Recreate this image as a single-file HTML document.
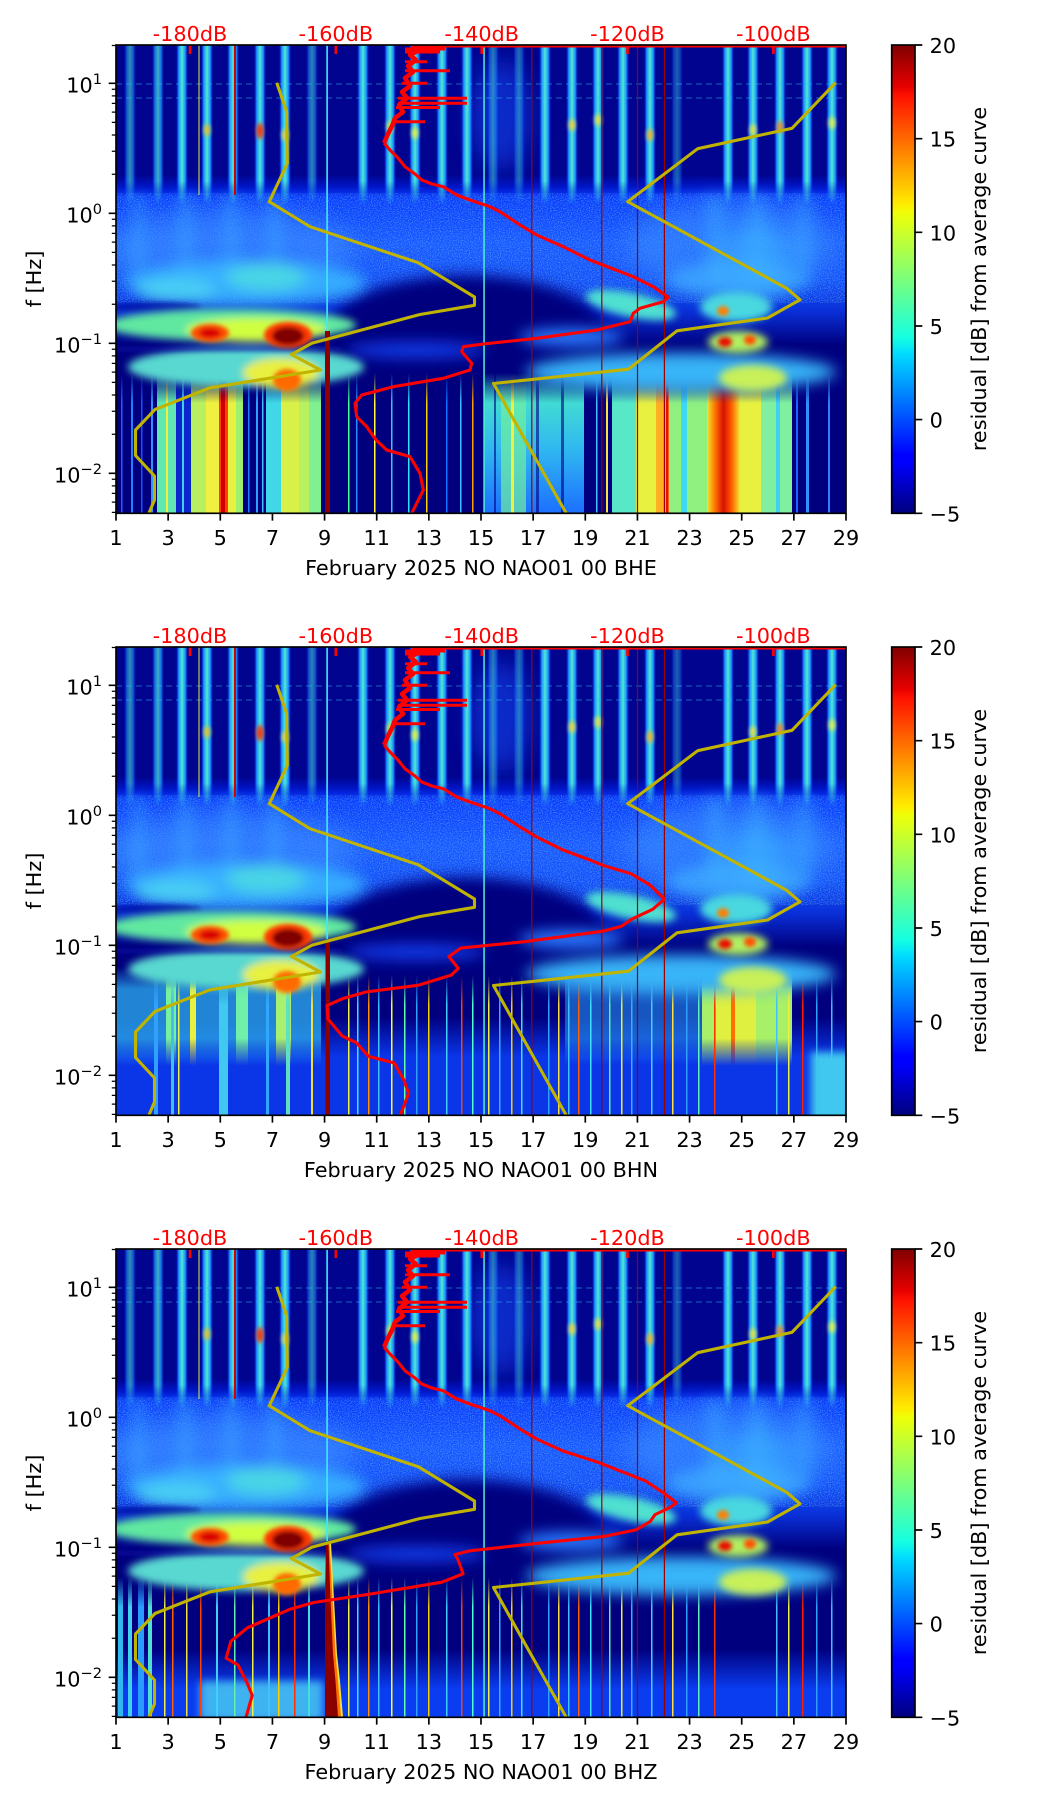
<!DOCTYPE html>
<html><head><meta charset="utf-8"><style>
html,body{margin:0;padding:0;background:#fff;}
svg{display:block;}
text{font-family:"DejaVu Sans","Liberation Sans",sans-serif;font-size:20.8px;fill:#000;}
.r{fill:#ff0000;}
</style></head><body>
<svg xmlns="http://www.w3.org/2000/svg" width="1052" height="1806" viewBox="0 0 1052 1806">
<defs>
<clipPath id="pc"><rect x="0" y="0" width="730" height="468.3"/></clipPath>
<clipPath id="pa"><rect x="116" y="45" width="730" height="468.3"/></clipPath>
<filter id="b2" x="-50%" y="-100%" width="200%" height="300%"><feGaussianBlur stdDeviation="2"/></filter>
<filter id="b4" x="-50%" y="-100%" width="200%" height="300%"><feGaussianBlur stdDeviation="4"/></filter>
<filter id="b7" x="-50%" y="-100%" width="200%" height="300%"><feGaussianBlur stdDeviation="7"/></filter>
<filter id="b12" x="-50%" y="-100%" width="200%" height="300%"><feGaussianBlur stdDeviation="12"/></filter>
<filter id="spk" x="0" y="0" width="100%" height="100%">
<feTurbulence type="fractalNoise" baseFrequency="0.9" numOctaves="1" seed="7"/>
<feColorMatrix type="matrix" values="0 0 0 0 0.18  0 0 0 0 0.6  0 0 0 0 1  0 0 0 3.2 -1.45"/>
</filter>
<linearGradient id="jet" x1="0" y1="1" x2="0" y2="0">
<stop offset="0" stop-color="#00007f"/><stop offset="0.11" stop-color="#0000ff"/><stop offset="0.125" stop-color="#0000ff"/>
<stop offset="0.34" stop-color="#00dbff"/><stop offset="0.375" stop-color="#15ffe2"/><stop offset="0.5" stop-color="#7bff7b"/>
<stop offset="0.64" stop-color="#eeff08"/><stop offset="0.66" stop-color="#ffec00"/><stop offset="0.89" stop-color="#ff1300"/>
<stop offset="0.91" stop-color="#e80000"/><stop offset="1" stop-color="#800000"/>
</linearGradient>
<linearGradient id="gs" x1="0" y1="0" x2="1" y2="0">
<stop offset="0" stop-color="#0a30ff" stop-opacity="0"/><stop offset="0.22" stop-color="#1890ff"/>
<stop offset="0.5" stop-color="#50e8d0"/><stop offset="0.78" stop-color="#1890ff"/><stop offset="1" stop-color="#0a30ff" stop-opacity="0"/>
</linearGradient>
<linearGradient id="gOr" x1="0" y1="0" x2="1" y2="0">
<stop offset="0" stop-color="#f0e830"/><stop offset="0.25" stop-color="#ff7000"/><stop offset="0.5" stop-color="#d81000"/>
<stop offset="0.75" stop-color="#ff6000"/><stop offset="1" stop-color="#f0e830"/>
</linearGradient>
<linearGradient id="gCy" gradientUnits="userSpaceOnUse" x1="0" y1="340" x2="0" y2="468">
<stop offset="0" stop-color="#48e8c8"/><stop offset="0.5" stop-color="#30b8f0"/><stop offset="1" stop-color="#1c70ff"/>
</linearGradient>
<linearGradient id="gBand" gradientUnits="userSpaceOnUse" x1="0" y1="130" x2="0" y2="300">
<stop offset="0" stop-color="#00048f"/><stop offset="0.07" stop-color="#0016c8"/><stop offset="0.13" stop-color="#0a3cfa"/>
<stop offset="0.4" stop-color="#1858ff"/><stop offset="0.62" stop-color="#1450f8"/><stop offset="0.8" stop-color="#0a30d8"/>
<stop offset="1" stop-color="#00007f"/>
</linearGradient>
<linearGradient id="gFT" gradientUnits="userSpaceOnUse" x1="0" y1="0" x2="0" y2="160">
<stop offset="0" stop-color="#fff"/><stop offset="0.85" stop-color="#fff"/><stop offset="1" stop-color="#000"/>
</linearGradient>
<mask id="mTop" maskUnits="userSpaceOnUse" x="0" y="0" width="730" height="470"><rect x="0" y="0" width="730" height="160" fill="url(#gFT)"/></mask>
<linearGradient id="gFL" gradientUnits="userSpaceOnUse" x1="0" y1="328" x2="0" y2="358">
<stop offset="0" stop-color="#000"/><stop offset="1" stop-color="#fff"/>
</linearGradient>
<mask id="mLow" maskUnits="userSpaceOnUse" x="0" y="0" width="730" height="470"><rect x="0" y="300" width="730" height="170" fill="url(#gFL)"/></mask>
<linearGradient id="gFM" gradientUnits="userSpaceOnUse" x1="0" y1="320" x2="0" y2="430">
<stop offset="0" stop-color="#000"/><stop offset="0.2" stop-color="#fff"/><stop offset="0.65" stop-color="#fff"/><stop offset="0.9" stop-color="#000"/>
</linearGradient>
<mask id="mMid" maskUnits="userSpaceOnUse" x="0" y="0" width="730" height="470"><rect x="0" y="300" width="730" height="170" fill="url(#gFM)"/></mask>
<linearGradient id="gLB" gradientUnits="userSpaceOnUse" x1="0" y1="370" x2="0" y2="410">
<stop offset="0" stop-color="#0a36e8" stop-opacity="0"/><stop offset="1" stop-color="#0a36e8"/>
</linearGradient>
<linearGradient id="gLB3" gradientUnits="userSpaceOnUse" x1="0" y1="400" x2="0" y2="440">
<stop offset="0" stop-color="#0a3cf0" stop-opacity="0"/><stop offset="1" stop-color="#0a3cf0"/>
</linearGradient>

<g id="hmA">
<rect x="0" y="0" width="730" height="470" fill="#00007f"/>
<rect x="0" y="0" width="730" height="145" fill="#00048f"/>
<rect x="0" y="130" width="730" height="170" fill="url(#gBand)"/>
<rect x="0" y="148" width="730" height="110" fill="#fff" filter="url(#spk)" opacity="0.5"/>
<g filter="url(#b12)">
<ellipse cx="115" cy="205" rx="125" ry="40" fill="#3a90ff" opacity="0.6"/>
<ellipse cx="615" cy="200" rx="105" ry="45" fill="#3a90ff" opacity="0.55"/>
<ellipse cx="640" cy="215" rx="40" ry="35" fill="#40c0ff" opacity="0.5"/>
<ellipse cx="385" cy="70" rx="30" ry="55" fill="#1a50ff" opacity="0.5"/>
</g>
<g filter="url(#b7)" opacity="0.35">
<rect x="15" y="150" width="14" height="85" fill="#40b8ff"/>
<rect x="62" y="150" width="14" height="85" fill="#40b8ff"/>
<rect x="108" y="150" width="14" height="85" fill="#40b8ff"/>
<rect x="152" y="150" width="14" height="85" fill="#40b8ff"/>
<rect x="590" y="150" width="18" height="90" fill="#40b8ff"/>
<rect x="632" y="150" width="18" height="90" fill="#40b8ff"/>
<rect x="680" y="150" width="16" height="90" fill="#40b8ff"/>
</g>
<ellipse cx="350" cy="292" rx="140" ry="62" fill="#00007f" filter="url(#b7)"/>
</g>

<g id="hmB">
<g filter="url(#b7)">
<ellipse cx="130" cy="238" rx="120" ry="22" fill="#38b8ff" opacity="0.85"/>
<ellipse cx="150" cy="232" rx="40" ry="14" fill="#50e0e0" opacity="0.8"/>
<ellipse cx="60" cy="245" rx="40" ry="12" fill="#50d8f0" opacity="0.8"/>
<ellipse cx="620" cy="235" rx="70" ry="18" fill="#40b0ff" opacity="0.7"/>
<ellipse cx="565" cy="327" rx="155" ry="19" fill="#38b4f8"/>
<ellipse cx="455" cy="292" rx="52" ry="9" fill="#2c7cff"/>
<ellipse cx="300" cy="305" rx="70" ry="8" fill="#1848ff" opacity="0.8"/>
</g>
<ellipse cx="40" cy="262" rx="45" ry="5" fill="#0010a0" opacity="0.7" filter="url(#b2)"/>
<g filter="url(#b4)">
<ellipse cx="115" cy="280" rx="125" ry="16" fill="#60e8a0"/>
<ellipse cx="140" cy="285" rx="70" ry="12" fill="#d0ff40"/>
<ellipse cx="130" cy="322" rx="118" ry="20" fill="#58d8d0"/>
<ellipse cx="165" cy="328" rx="38" ry="15" fill="#e8f040"/>
<ellipse cx="515" cy="260" rx="46" ry="12" fill="#50e0d0" transform="rotate(12 515 260)"/>
<ellipse cx="620" cy="262" rx="36" ry="15" fill="#48d8e0"/>
<ellipse cx="622" cy="297" rx="30" ry="11" fill="#b0f060"/>
<ellipse cx="637" cy="333" rx="34" ry="13" fill="#c8f058"/>
</g>
<rect x="0" y="302" width="225" height="4" fill="#0818b0" opacity="0.6" filter="url(#b2)"/>
<g filter="url(#b2)">
<ellipse cx="94" cy="288" rx="19" ry="9" fill="#ff5000"/>
<ellipse cx="94" cy="288" rx="11" ry="5" fill="#d80000"/>
<ellipse cx="172" cy="290" rx="24" ry="13" fill="#ff3800"/>
<ellipse cx="172" cy="291" rx="16" ry="9" fill="#800000"/>
<ellipse cx="171" cy="335" rx="14" ry="11" fill="#ff6a00"/>
<ellipse cx="607" cy="266" rx="6" ry="5" fill="#ff8000"/>
<ellipse cx="609" cy="297" rx="7" ry="5" fill="#e81000"/>
<ellipse cx="634" cy="295" rx="6" ry="5" fill="#ff5000"/>
</g>
<g mask="url(#mTop)">
<rect x="8" y="0" width="12" height="160" fill="url(#gs)" opacity="0.6"/>
<rect x="36" y="0" width="12" height="160" fill="url(#gs)" opacity="0.75"/>
<rect x="60" y="0" width="12" height="160" fill="url(#gs)"/>
<rect x="85" y="0" width="12" height="160" fill="url(#gs)"/>
<rect x="111" y="0" width="12" height="160" fill="url(#gs)"/>
<rect x="138" y="0" width="12" height="160" fill="url(#gs)"/>
<rect x="163" y="0" width="12" height="160" fill="url(#gs)"/>
<rect x="190" y="0" width="12" height="160" fill="url(#gs)" opacity="0.55"/>
<rect x="241" y="0" width="12" height="160" fill="url(#gs)"/>
<rect x="268" y="0" width="12" height="160" fill="url(#gs)"/>
<rect x="293" y="0" width="12" height="160" fill="url(#gs)"/>
<rect x="320" y="0" width="12" height="160" fill="url(#gs)"/>
<rect x="345" y="0" width="12" height="160" fill="url(#gs)"/>
<rect x="371" y="0" width="12" height="160" fill="url(#gs)" opacity="0.5"/>
<rect x="397" y="0" width="12" height="160" fill="url(#gs)" opacity="0.45"/>
<rect x="423" y="0" width="12" height="160" fill="url(#gs)"/>
<rect x="450" y="0" width="12" height="160" fill="url(#gs)"/>
<rect x="476" y="0" width="12" height="160" fill="url(#gs)"/>
<rect x="501" y="0" width="12" height="160" fill="url(#gs)"/>
<rect x="528" y="0" width="12" height="160" fill="url(#gs)"/>
<rect x="555" y="0" width="12" height="160" fill="url(#gs)" opacity="0.4"/>
<rect x="606" y="0" width="12" height="160" fill="url(#gs)"/>
<rect x="631" y="0" width="12" height="160" fill="url(#gs)"/>
<rect x="658" y="0" width="12" height="160" fill="url(#gs)"/>
<rect x="685" y="0" width="12" height="160" fill="url(#gs)"/>
<rect x="710" y="0" width="12" height="160" fill="url(#gs)"/>
<g filter="url(#b2)">
<ellipse cx="91" cy="85" rx="3" ry="6" fill="#f0c020"/>
<ellipse cx="144" cy="86" rx="3.5" ry="8" fill="#ff3000"/>
<ellipse cx="169" cy="90" rx="3" ry="6" fill="#f0d040"/>
<ellipse cx="274" cy="82" rx="3" ry="6" fill="#e0e040"/>
<ellipse cx="299" cy="88" rx="3" ry="6" fill="#f0f040"/>
<ellipse cx="456" cy="80" rx="3" ry="6" fill="#ffd030"/>
<ellipse cx="482" cy="75" rx="3" ry="6" fill="#f0e040"/>
<ellipse cx="534" cy="90" rx="3" ry="6" fill="#ffb020"/>
<ellipse cx="637" cy="85" rx="3" ry="6" fill="#f0e040"/>
<ellipse cx="664" cy="82" rx="3" ry="6" fill="#ff8020"/>
<ellipse cx="716" cy="78" rx="3" ry="6" fill="#f0f040"/>
</g>
</g>
<path d="M0,39H730M0,53H730" stroke="#30c0f0" stroke-width="1" opacity="0.5" stroke-dasharray="6 4"/>
<rect x="82.5" y="0" width="1" height="150" fill="#e0f040"/>
<rect x="118" y="0" width="2" height="150" fill="#d00000"/>
<rect x="210.3" y="0" width="1.6" height="292" fill="#40e8ff"/>
<rect x="367.3" y="0" width="1.5" height="470" fill="#50f0d0"/>
<rect x="415.2" y="0" width="1.2" height="470" fill="#9a0000"/>
<rect x="485.2" y="0" width="1.2" height="470" fill="#9a0000"/>
<rect x="520.9" y="0" width="1.2" height="470" fill="#9a0000"/>
<rect x="547.8" y="0" width="1.2" height="470" fill="#9a0000"/>
</g>

<g id="tl" mask="url(#mLow)">
<rect x="232" y="300" width="1.5" height="170" fill="#f0f040"/>
<rect x="241" y="300" width="1.5" height="170" fill="#40e0ff"/>
<rect x="252" y="300" width="1.5" height="170" fill="#ff9000"/>
<rect x="262" y="300" width="1.5" height="170" fill="#40c0ff"/>
<rect x="275" y="300" width="1.5" height="170" fill="#ffff40"/>
<rect x="288" y="300" width="1.5" height="170" fill="#60ffb0"/>
<rect x="300" y="300" width="1.5" height="170" fill="#30a0ff"/>
<rect x="312" y="300" width="1.5" height="170" fill="#f8d000"/>
<rect x="330" y="300" width="1.5" height="170" fill="#40d0ff"/>
<rect x="345" y="300" width="1.5" height="170" fill="#ff4000"/>
<rect x="356" y="300" width="1.5" height="170" fill="#50ffd0"/>
<rect x="372" y="300" width="1.5" height="170" fill="#f0f040"/>
<rect x="383" y="300" width="1.5" height="170" fill="#30b0ff"/>
<rect x="395" y="300" width="1.5" height="170" fill="#ffd000"/>
<rect x="405" y="300" width="1.5" height="170" fill="#40e0e0"/>
<rect x="432" y="300" width="1.5" height="170" fill="#30a0ff"/>
<rect x="442" y="300" width="1.5" height="170" fill="#f8e040"/>
<rect x="452" y="300" width="1.5" height="170" fill="#40c0ff"/>
<rect x="462" y="300" width="1.5" height="170" fill="#ff6000"/>
<rect x="474" y="300" width="1.5" height="170" fill="#40e0ff"/>
<rect x="493" y="300" width="1.5" height="170" fill="#60f0a0"/>
<rect x="505" y="300" width="1.5" height="170" fill="#f0f040"/>
<rect x="515" y="300" width="1.5" height="170" fill="#30b0ff"/>
<rect x="535" y="300" width="1.5" height="170" fill="#40d0ff"/>
<rect x="556" y="300" width="1.5" height="170" fill="#ffe040"/>
<rect x="570" y="300" width="1.5" height="170" fill="#30a0ff"/>
<rect x="582" y="300" width="1.5" height="170" fill="#60f0c0"/>
<rect x="598" y="300" width="1.5" height="170" fill="#ff3000"/>
<rect x="660" y="300" width="1.5" height="170" fill="#40c0ff"/>
<rect x="672" y="300" width="1.5" height="170" fill="#f0f040"/>
<rect x="686" y="300" width="1.5" height="170" fill="#ff2000"/>
<rect x="700" y="300" width="1.5" height="170" fill="#30a0ff"/>
<rect x="715" y="300" width="1.5" height="170" fill="#40c0ff"/>
</g>

<g id="cv" fill="none" stroke-linejoin="round">
<path d="M276.7,82.7L286.7,111.7L287.3,163.3L269.3,201.7L310,226.7L418.3,262.7L474.5,297L474.5,305.3L420,314.5L311.7,343.3L291.5,354.5L320.5,370L210,387.8L155,409.5L135.5,430L135.5,455.5L154.5,476L154.5,500L146,520" stroke="#c0b400" stroke-width="3.1"/>
<path d="M835.7,82.7L792,128.3L697.7,148.7L627.7,201.7L786.7,288.3L800,299.8L767.5,318L677,330.8L628.5,369.2L493.5,383.5L570,520" stroke="#c0b400" stroke-width="3.1"/>
<path d="M412,46.3H846" stroke="#ff0000" stroke-width="2.5"/>
<path d="M405,49H445M405,52H440M405,61.7H427M405,70.7H450M402,83.3H427M398,98.3H467M398,103.2H467M396,107.5H440M392,121.7H425" stroke="#ff0000" stroke-width="3"/>
<path d="M412,46L420,50L410,55L416,60L408,66L413,72L405,78L410,86L402,92L407,98L399,105L403,112L395,118L392,126L388,134L384,143" stroke="#ff0000" stroke-width="4.5"/>
<path d="M384,143L390,150L398,158L405,166.7L415,174L421.7,180L432,184L443.3,186.7L456.7,195L470,200L490,206.7L500,211.7L520,225L536.7,235" stroke="#ff0000" stroke-width="3.1"/>
<g fill="#ff0000" stroke="none">
<rect x="188.7" y="45" width="2.7" height="9"/>
<rect x="334.5" y="45" width="2.7" height="9"/>
<rect x="480.4" y="45" width="2.7" height="9"/>
<rect x="626.2" y="45" width="2.7" height="9"/>
<rect x="772" y="45" width="2.7" height="9"/>
</g>
</g>

<g id="ax" fill="none" stroke="#000">
<rect x="116" y="45" width="730" height="468.3" stroke-width="1.67"/>
<path d="M116,513.3v7.3M168.14,513.3v7.3M220.29,513.3v7.3M272.43,513.3v7.3M324.57,513.3v7.3M376.71,513.3v7.3M428.86,513.3v7.3M481,513.3v7.3M533.14,513.3v7.3M585.29,513.3v7.3M637.43,513.3v7.3M689.57,513.3v7.3M741.71,513.3v7.3M793.86,513.3v7.3M846,513.3v7.3" stroke-width="1.67"/>
<path d="M116,83.3h-7.3M116,213.3h-7.3M116,343.3h-7.3M116,473.3h-7.3" stroke-width="1.67"/>
<path d="M116,45.5h-4.2M116,174.2h-4.2M116,151.3h-4.2M116,135h-4.2M116,122.4h-4.2M116,112.1h-4.2M116,103.4h-4.2M116,95.9h-4.2M116,89.2h-4.2M116,304.2h-4.2M116,281.3h-4.2M116,265h-4.2M116,252.4h-4.2M116,242.1h-4.2M116,233.4h-4.2M116,225.9h-4.2M116,219.2h-4.2M116,434.2h-4.2M116,411.3h-4.2M116,395h-4.2M116,382.4h-4.2M116,372.1h-4.2M116,363.4h-4.2M116,355.9h-4.2M116,349.2h-4.2M116,512.4h-4.2M116,502.1h-4.2M116,493.4h-4.2M116,485.9h-4.2M116,479.2h-4.2" stroke-width="1.25"/>
<rect x="891.7" y="45" width="23.3" height="468.3" fill="url(#jet)" stroke-width="1.67"/>
<path d="M915,513.3h7.3M915,419.6h7.3M915,326h7.3M915,232.3h7.3M915,138.7h7.3M915,45h7.3" stroke-width="1.67"/>
</g>
</defs>

<rect width="1052" height="1806" fill="#fff"/>

<!-- ================= PANEL 1 ================= -->
<g>
<g transform="translate(116,45)" clip-path="url(#pc)">
<use href="#hmA"/>
<g mask="url(#mLow)">
<rect x="5" y="320" width="1.5" height="150" fill="#1c60ff"/>
<rect x="15" y="320" width="2" height="150" fill="#2080ff"/>
<rect x="25" y="320" width="1.5" height="150" fill="#1850ff"/>
<rect x="35" y="320" width="2" height="150" fill="#3090ff"/>
<rect x="41" y="320" width="19" height="150" fill="#60e8b0"/>
<rect x="50" y="320" width="2" height="150" fill="#f0f040"/>
<rect x="60" y="320" width="15" height="150" fill="#1040ff" opacity="0.6"/>
<rect x="66" y="320" width="2" height="150" fill="#40d0f0"/>
<rect x="75" y="320" width="15" height="150" fill="#b8f060"/>
<rect x="90" y="320" width="13" height="150" fill="#f0f040"/>
<rect x="103" y="320" width="9" height="150" fill="#ff4000"/>
<rect x="105" y="320" width="4" height="150" fill="#d00000"/>
<rect x="112" y="320" width="8" height="150" fill="#e8f040"/>
<rect x="120" y="320" width="7" height="150" fill="#a0f070"/>
<rect x="132" y="320" width="1.5" height="150" fill="#2080ff"/>
<rect x="140" y="320" width="2" height="150" fill="#30a0ff"/>
<rect x="146" y="320" width="1.5" height="150" fill="#40c0ff"/>
<rect x="150" y="320" width="15" height="150" fill="#40d8e8"/>
<rect x="165" y="320" width="18" height="150" fill="#d8f048"/>
<rect x="183" y="320" width="10" height="150" fill="#b8f060"/>
<rect x="193" y="320" width="12" height="150" fill="#80f090"/>
<rect x="232" y="320" width="1.5" height="150" fill="#40ff90"/>
<rect x="240" y="320" width="1.5" height="150" fill="#2090ff"/>
<rect x="258" y="320" width="1.5" height="150" fill="#ffff40"/>
<rect x="275" y="320" width="1.5" height="150" fill="#40c0ff"/>
<rect x="292" y="320" width="1.5" height="150" fill="#30e0ff"/>
<rect x="310" y="320" width="1.5" height="150" fill="#ffd000"/>
<rect x="330" y="320" width="1.5" height="150" fill="#1070ff"/>
<rect x="344" y="320" width="1.5" height="150" fill="#40c0ff"/>
<rect x="356" y="320" width="1.5" height="150" fill="#ffa000"/>
<rect x="368" y="320" width="100" height="150" fill="url(#gCy)"/>
<rect x="385" y="320" width="25" height="150" fill="#70f0a0" opacity="0.7"/>
<rect x="395" y="320" width="3" height="150" fill="#f0f040"/>
<rect x="378" y="320" width="2" height="150" fill="#00007f" opacity="0.6"/>
<rect x="420" y="320" width="3" height="150" fill="#00007f" opacity="0.6"/>
<rect x="445" y="320" width="3" height="150" fill="#00007f" opacity="0.6"/>
<rect x="480" y="320" width="1.5" height="150" fill="#40c0ff"/>
<rect x="490" y="320" width="2" height="150" fill="#ffe040"/>
<rect x="496" y="320" width="24" height="150" fill="#58e8c8"/>
<rect x="520" y="320" width="20" height="150" fill="#e8f040"/>
<rect x="540" y="320" width="13" height="150" fill="#ffb020"/>
<rect x="550" y="320" width="2.5" height="150" fill="#e81000"/>
<rect x="553" y="320" width="38" height="150" fill="#90f080"/>
<rect x="565" y="320" width="6" height="150" fill="#40d8f0"/>
<rect x="591" y="320" width="33" height="150" fill="url(#gOr)"/>
<rect x="624" y="320" width="21" height="150" fill="#e8f040"/>
<rect x="645" y="320" width="31" height="150" fill="#80f0a0"/>
<rect x="660" y="320" width="4" height="150" fill="#40d0f0"/>
<rect x="680" y="320" width="2" height="150" fill="#2060ff"/>
<rect x="690" y="320" width="3" height="150" fill="#3090ff"/>
<rect x="712" y="320" width="2" height="150" fill="#3080ff"/>
</g>
<use href="#hmB"/>
<rect x="209" y="286" width="5" height="184" fill="#8c0000"/>
</g>
<g clip-path="url(#pa)">
<use href="#cv"/>
<path d="M536.7,235L563.3,246.7L590,260L633.3,276.7L653.3,286.7L668.3,297.3L663.3,301.7L640,308.3L633.3,313.3L630,321.7L596.7,330L536.7,338.3L483.3,344L463.3,346.7L461.7,351.7L471.7,363.3L470,370L443.3,378.3L393.3,386.7L361.7,395L355,403.3L356.7,416.7L366.7,426.7L376,440L386.7,450L410,456.7L420,473.3L423.3,490L411.7,513.3L410,520" fill="none" stroke="#ff0000" stroke-width="3.1" stroke-linejoin="round"/>
</g>
<use href="#ax"/>
<text class="r" x="190" y="41" text-anchor="middle">-180dB</text>
<text class="r" x="335.8" y="41" text-anchor="middle">-160dB</text>
<text class="r" x="481.7" y="41" text-anchor="middle">-140dB</text>
<text class="r" x="627.5" y="41" text-anchor="middle">-120dB</text>
<text class="r" x="773.3" y="41" text-anchor="middle">-100dB</text>
<text x="102" y="92.3" text-anchor="end">10<tspan font-size="14.6" dy="-8.5">1</tspan></text>
<text x="102" y="222.3" text-anchor="end">10<tspan font-size="14.6" dy="-8.5">0</tspan></text>
<text x="102" y="352.3" text-anchor="end">10<tspan font-size="14.6" dy="-8.5">−1</tspan></text>
<text x="102" y="482.3" text-anchor="end">10<tspan font-size="14.6" dy="-8.5">−2</tspan></text>
<text x="116" y="545" text-anchor="middle">1</text>
<text x="168.14" y="545" text-anchor="middle">3</text>
<text x="220.29" y="545" text-anchor="middle">5</text>
<text x="272.43" y="545" text-anchor="middle">7</text>
<text x="324.57" y="545" text-anchor="middle">9</text>
<text x="376.71" y="545" text-anchor="middle">11</text>
<text x="428.86" y="545" text-anchor="middle">13</text>
<text x="481" y="545" text-anchor="middle">15</text>
<text x="533.14" y="545" text-anchor="middle">17</text>
<text x="585.29" y="545" text-anchor="middle">19</text>
<text x="637.43" y="545" text-anchor="middle">21</text>
<text x="689.57" y="545" text-anchor="middle">23</text>
<text x="741.71" y="545" text-anchor="middle">25</text>
<text x="793.86" y="545" text-anchor="middle">27</text>
<text x="846" y="545" text-anchor="middle">29</text>
<text x="481" y="575" text-anchor="middle">February 2025 NO NAO01 00 BHE</text>
<text transform="translate(41,279) rotate(-90)" text-anchor="middle">f [Hz]</text>
<text x="929.6" y="521.3">−5</text>
<text x="929.6" y="427.6">0</text>
<text x="929.6" y="334">5</text>
<text x="929.6" y="240.3">10</text>
<text x="929.6" y="146.7">15</text>
<text x="929.6" y="53">20</text>
<text transform="translate(986,279) rotate(-90)" text-anchor="middle">residual [dB] from average curve</text>
</g>

<!-- ================= PANEL 2 ================= -->
<g transform="translate(0,602)">
<g transform="translate(116,45)" clip-path="url(#pc)">
<use href="#hmA"/>
<rect x="0" y="360" width="730" height="110" fill="url(#gLB)"/>
<g mask="url(#mMid)">
<rect x="0" y="320" width="205" height="110" fill="#2cb0f0" opacity="0.75"/>
<rect x="50" y="320" width="10" height="110" fill="#78f0a0"/>
<rect x="74" y="320" width="6" height="110" fill="#e8f040"/>
<rect x="120" y="320" width="12" height="110" fill="#70f0a8"/>
<rect x="160" y="320" width="15" height="110" fill="#a8f070"/>
<rect x="449" y="320" width="137" height="110" fill="#2a9cf8" opacity="0.55"/>
<rect x="586" y="320" width="90" height="110" fill="#a8f068"/>
<rect x="600" y="320" width="40" height="110" fill="#e0f040"/>
<rect x="615" y="320" width="4" height="110" fill="#ff7000"/>
</g>
<use href="#tl"/>
<g mask="url(#mLow)">
<rect x="38" y="320" width="4" height="150" fill="#30a0ff"/>
<rect x="55" y="320" width="3" height="150" fill="#40c0f0"/>
<rect x="62" y="320" width="1.5" height="150" fill="#f0f040"/>
<rect x="103" y="320" width="9" height="150" fill="#40c8f0"/>
<rect x="150" y="320" width="3" height="150" fill="#30a8ff"/>
<rect x="170" y="320" width="4" height="150" fill="#60e0c0"/>
<rect x="195" y="320" width="2" height="150" fill="#f0e040"/>
</g>
<rect x="695" y="405" width="40" height="70" fill="#40c8f0" filter="url(#b4)"/>
<use href="#hmB"/>
<rect x="209.5" y="294" width="4.5" height="176" fill="#8c0000"/>
</g>
<g clip-path="url(#pa)">
<use href="#cv"/>
<path d="M536.7,235L563,248L590,258L602.9,263.3L631.3,271.8L650,283L664.5,297.1L652.7,307.3L631.3,317.4L621.8,324.1L602.9,329.2L527,339.4L460.7,346.1L456,349.5L448.9,354.6L458.3,366.4L451.2,373.1L418,383.3L366,390L342.2,396.8L327,403.5L328,417L342.2,434L356.4,440.7L368.3,454.2L394.4,461L403.8,477.9L408.6,491.4L399,516.7L397,522" fill="none" stroke="#ff0000" stroke-width="3.1" stroke-linejoin="round"/>
</g>
<use href="#ax"/>
<text class="r" x="190" y="41" text-anchor="middle">-180dB</text>
<text class="r" x="335.8" y="41" text-anchor="middle">-160dB</text>
<text class="r" x="481.7" y="41" text-anchor="middle">-140dB</text>
<text class="r" x="627.5" y="41" text-anchor="middle">-120dB</text>
<text class="r" x="773.3" y="41" text-anchor="middle">-100dB</text>
<text x="102" y="92.3" text-anchor="end">10<tspan font-size="14.6" dy="-8.5">1</tspan></text>
<text x="102" y="222.3" text-anchor="end">10<tspan font-size="14.6" dy="-8.5">0</tspan></text>
<text x="102" y="352.3" text-anchor="end">10<tspan font-size="14.6" dy="-8.5">−1</tspan></text>
<text x="102" y="482.3" text-anchor="end">10<tspan font-size="14.6" dy="-8.5">−2</tspan></text>
<text x="116" y="545" text-anchor="middle">1</text>
<text x="168.14" y="545" text-anchor="middle">3</text>
<text x="220.29" y="545" text-anchor="middle">5</text>
<text x="272.43" y="545" text-anchor="middle">7</text>
<text x="324.57" y="545" text-anchor="middle">9</text>
<text x="376.71" y="545" text-anchor="middle">11</text>
<text x="428.86" y="545" text-anchor="middle">13</text>
<text x="481" y="545" text-anchor="middle">15</text>
<text x="533.14" y="545" text-anchor="middle">17</text>
<text x="585.29" y="545" text-anchor="middle">19</text>
<text x="637.43" y="545" text-anchor="middle">21</text>
<text x="689.57" y="545" text-anchor="middle">23</text>
<text x="741.71" y="545" text-anchor="middle">25</text>
<text x="793.86" y="545" text-anchor="middle">27</text>
<text x="846" y="545" text-anchor="middle">29</text>
<text x="481" y="575" text-anchor="middle">February 2025 NO NAO01 00 BHN</text>
<text transform="translate(41,279) rotate(-90)" text-anchor="middle">f [Hz]</text>
<text x="929.6" y="521.3">−5</text>
<text x="929.6" y="427.6">0</text>
<text x="929.6" y="334">5</text>
<text x="929.6" y="240.3">10</text>
<text x="929.6" y="146.7">15</text>
<text x="929.6" y="53">20</text>
<text transform="translate(986,279) rotate(-90)" text-anchor="middle">residual [dB] from average curve</text>
</g>

<!-- ================= PANEL 3 ================= -->
<g transform="translate(0,1204)">
<g transform="translate(116,45)" clip-path="url(#pc)">
<use href="#hmA"/>
<rect x="0" y="380" width="730" height="90" fill="url(#gLB3)"/>
<rect x="84" y="432" width="123" height="40" fill="#48c8f0" opacity="0.85" filter="url(#b4)"/>
<use href="#tl"/>
<g mask="url(#mLow)">
<rect x="2" y="320" width="5" height="150" fill="#30b8f0"/>
<rect x="12" y="320" width="4" height="150" fill="#40d0f0"/>
<rect x="22" y="320" width="6" height="150" fill="#2a9cff"/>
<rect x="32" y="320" width="4" height="150" fill="#50e0d0"/>
<rect x="48" y="320" width="1.5" height="150" fill="#f0f040"/>
<rect x="56" y="320" width="1.5" height="150" fill="#ff6000"/>
<rect x="70" y="320" width="1.5" height="150" fill="#f0e040"/>
<rect x="84" y="320" width="1.5" height="150" fill="#ff4000"/>
<rect x="100" y="320" width="2" height="150" fill="#40d0ff"/>
<rect x="118" y="320" width="1.5" height="150" fill="#60f0b0"/>
<rect x="136" y="320" width="1.5" height="150" fill="#f0f040"/>
<rect x="152" y="320" width="2" height="150" fill="#40c0ff"/>
<rect x="162" y="320" width="1.5" height="150" fill="#ffd000"/>
<rect x="178" y="320" width="1.5" height="150" fill="#ff3000"/>
<rect x="192" y="320" width="2" height="150" fill="#40e0e0"/>
</g>
<use href="#hmB"/>
<polygon points="211,294 215,294 218,350 221,405 224,432 227,468 209,468 209,350" fill="#f0e040"/>
<polygon points="210.5,294 213.5,294 216.5,350 219.5,405 222,432 225,468 209,468 209,350" fill="#ff7000"/>
<polygon points="210,294 212.5,294 214.5,350 217,405 219.5,432 222,468 209,468 209,350" fill="#8a0000"/>
</g>
<g clip-path="url(#pa)">
<use href="#cv"/>
<path d="M536.7,235L563,247L598.2,258.3L645.5,276.9L665,290L676.4,298.8L669.2,303.9L655,310.6L650.3,317.4L636.1,325.8L602.9,332.6L536.5,339.4L470.2,346.8L455,350.5L458.3,356.2L463,369.8L441.8,378.2L370.7,390L313.8,398.5L290,405.2L247.4,423.8L230.9,437.3L226.1,454.2L238,461L247.4,479.6L252.2,491.4L245,516.7L243,522" fill="none" stroke="#ff0000" stroke-width="3.1" stroke-linejoin="round"/>
</g>
<use href="#ax"/>
<text class="r" x="190" y="41" text-anchor="middle">-180dB</text>
<text class="r" x="335.8" y="41" text-anchor="middle">-160dB</text>
<text class="r" x="481.7" y="41" text-anchor="middle">-140dB</text>
<text class="r" x="627.5" y="41" text-anchor="middle">-120dB</text>
<text class="r" x="773.3" y="41" text-anchor="middle">-100dB</text>
<text x="102" y="92.3" text-anchor="end">10<tspan font-size="14.6" dy="-8.5">1</tspan></text>
<text x="102" y="222.3" text-anchor="end">10<tspan font-size="14.6" dy="-8.5">0</tspan></text>
<text x="102" y="352.3" text-anchor="end">10<tspan font-size="14.6" dy="-8.5">−1</tspan></text>
<text x="102" y="482.3" text-anchor="end">10<tspan font-size="14.6" dy="-8.5">−2</tspan></text>
<text x="116" y="545" text-anchor="middle">1</text>
<text x="168.14" y="545" text-anchor="middle">3</text>
<text x="220.29" y="545" text-anchor="middle">5</text>
<text x="272.43" y="545" text-anchor="middle">7</text>
<text x="324.57" y="545" text-anchor="middle">9</text>
<text x="376.71" y="545" text-anchor="middle">11</text>
<text x="428.86" y="545" text-anchor="middle">13</text>
<text x="481" y="545" text-anchor="middle">15</text>
<text x="533.14" y="545" text-anchor="middle">17</text>
<text x="585.29" y="545" text-anchor="middle">19</text>
<text x="637.43" y="545" text-anchor="middle">21</text>
<text x="689.57" y="545" text-anchor="middle">23</text>
<text x="741.71" y="545" text-anchor="middle">25</text>
<text x="793.86" y="545" text-anchor="middle">27</text>
<text x="846" y="545" text-anchor="middle">29</text>
<text x="481" y="575" text-anchor="middle">February 2025 NO NAO01 00 BHZ</text>
<text transform="translate(41,279) rotate(-90)" text-anchor="middle">f [Hz]</text>
<text x="929.6" y="521.3">−5</text>
<text x="929.6" y="427.6">0</text>
<text x="929.6" y="334">5</text>
<text x="929.6" y="240.3">10</text>
<text x="929.6" y="146.7">15</text>
<text x="929.6" y="53">20</text>
<text transform="translate(986,279) rotate(-90)" text-anchor="middle">residual [dB] from average curve</text>
</g>
</svg>
</body></html>
